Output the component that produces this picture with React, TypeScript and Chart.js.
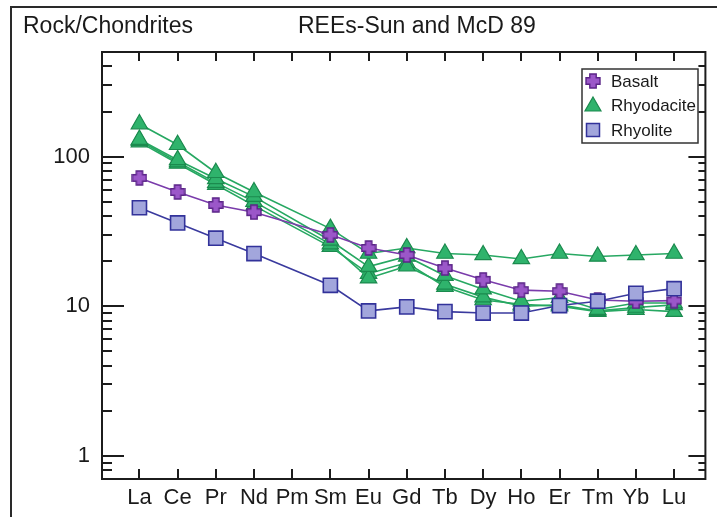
import React, { useEffect, useRef } from "react";
import { Chart, registerables } from "chart.js";
Chart.register(...registerables);

const categories = ["La", "Ce", "Pr", "Nd", "Pm", "Sm", "Eu", "Gd", "Tb", "Dy", "Ho", "Er", "Tm", "Yb", "Lu"];
const basalt = [72, 58, 47.5, 42.5, null, 30, 24.5, 22, 18, 15, 12.8, 12.6, 11, 10.8, 10.9];
const rhyolite = [45.5, 36, 28.5, 22.5, null, 13.8, 9.3, 9.9, 9.2, 9.0, 9.0, 10.1, 10.8, 12.2, 13.1];
const rhyodacite1 = [165, 120, 78, 58, null, 33, 22.5, 24.5, 22.5, 22, 20.7, 22.5, 21.5, 22, 22.5];
const rhyodacite2 = [130, 95, 71, 54, null, 27.5, 18.4, 21.5, 16, 13, 10.8, 11.4, 9.5, 10.5, 10.5];
const rhyodacite3 = [128, 92, 67, 50, null, 26, 15.4, 18.5, 14, 11.5, 10, 10.2, 9.3, 9.8, 10.2];
const rhyodacite4 = [125, 90, 65, 47, null, 25, 16.5, 19.5, 13.5, 11, 10.3, 10, 9.2, 9.5, 9.2];
const yTickValues = [0.8, 0.9, 1, 2, 3, 4, 5, 6, 7, 8, 9, 10, 20, 30, 40, 50, 60, 70, 80, 90, 100, 200, 300, 400];
const yMajorTicks = [1, 10, 100];
const titleLeft = "Rock/Chondrites";
const titleMain = "REEs-Sun and McD 89";

const FONT = '"Liberation Sans", Arial, Helvetica, sans-serif';
const PURPLE_FILL = "#9b57c9";
const PURPLE_EDGE = "#5b2588";
const PURPLE_LINE = "#7a3cab";
const BLUE_FILL = "#a2a6dc";
const BLUE_EDGE = "#32329a";
const BLUE_LINE = "#3a3a9e";
const GREEN_FILL = "#2fb36c";
const GREEN_EDGE = "#1b8a4e";
const GREEN_LINE = "#27a862";

function makeCross(size: number): HTMLCanvasElement {
  const c = document.createElement("canvas");
  c.width = size;
  c.height = size;
  const g = c.getContext("2d")!;
  const s = size;
  const a = s * 0.3;
  const b = s * 0.7;
  const m = 1;
  g.beginPath();
  g.moveTo(a, m);
  g.lineTo(b, m);
  g.lineTo(b, a);
  g.lineTo(s - m, a);
  g.lineTo(s - m, b);
  g.lineTo(b, b);
  g.lineTo(b, s - m);
  g.lineTo(a, s - m);
  g.lineTo(a, b);
  g.lineTo(m, b);
  g.lineTo(m, a);
  g.lineTo(a, a);
  g.closePath();
  g.fillStyle = PURPLE_FILL;
  g.fill();
  g.lineWidth = 1.4;
  g.strokeStyle = PURPLE_EDGE;
  g.stroke();
  return c;
}

const toPoints = (arr: (number | null)[]) => arr.map((v, i) => ({ x: i, y: v }));

export default function App() {
  const ref = useRef<HTMLCanvasElement | null>(null);
  useEffect(() => {
    document.body.style.margin = "0";
    const canvas = ref.current!;
    const cross = makeCross(16);

    const axesPlugin = {
      id: "axesPlugin",
      beforeDatasetsDraw(chart: any) {
        const { ctx, chartArea: a, scales } = chart;
        const xs = scales.x;
        const ys = scales.y;
        ctx.save();
        ctx.strokeStyle = "#1c1c1c";
        ctx.lineWidth = 2;
        const line = (x1: number, y1: number, x2: number, y2: number) => {
          ctx.beginPath();
          ctx.moveTo(x1, y1);
          ctx.lineTo(x2, y2);
          ctx.stroke();
        };
        categories.forEach((_, i) => {
          const px = Math.round(xs.getPixelForValue(i));
          line(px, a.bottom, px, a.bottom - 10);
          line(px, a.top, px, a.top + 9);
        });
        yTickValues.forEach((v) => {
          const py = Math.round(ys.getPixelForValue(v));
          const major = yMajorTicks.includes(v);
          line(a.left, py, a.left + (major ? 22 : 10), py);
          line(a.right, py, a.right - (major ? 17 : 7), py);
        });
        ctx.strokeRect(a.left, a.top, a.right - a.left, a.bottom - a.top);
        ctx.restore();
      },
      afterDraw(chart: any) {
        const { ctx } = chart;
        ctx.save();
        ctx.strokeStyle = "#2a2a2a";
        ctx.lineWidth = 2;
        ctx.strokeRect(11, 7, 800, 600);
        ctx.fillStyle = "#1a1a1a";
        ctx.font = `23px ${FONT}`;
        ctx.textBaseline = "alphabetic";
        ctx.textAlign = "left";
        ctx.fillText(titleLeft, 23, 33);
        ctx.fillText(titleMain, 298, 33);
        const lx = 582, ly = 69, lw = 116, lh = 74;
        ctx.fillStyle = "#ffffff";
        ctx.fillRect(lx, ly, lw, lh);
        ctx.strokeStyle = "#333333";
        ctx.lineWidth = 1.5;
        ctx.strokeRect(lx, ly, lw, lh);
        const rows = [81, 105, 130];
        const mx = 593;
        ctx.drawImage(cross, mx - 8, rows[0] - 8);
        ctx.beginPath();
        ctx.moveTo(mx, rows[1] - 8);
        ctx.lineTo(mx + 8, rows[1] + 6);
        ctx.lineTo(mx - 8, rows[1] + 6);
        ctx.closePath();
        ctx.fillStyle = GREEN_FILL;
        ctx.fill();
        ctx.strokeStyle = GREEN_EDGE;
        ctx.lineWidth = 1.2;
        ctx.stroke();
        ctx.fillStyle = BLUE_FILL;
        ctx.fillRect(mx - 6.5, rows[2] - 6.5, 13, 13);
        ctx.strokeStyle = BLUE_EDGE;
        ctx.lineWidth = 1.5;
        ctx.strokeRect(mx - 6.5, rows[2] - 6.5, 13, 13);
        ctx.fillStyle = "#1a1a1a";
        ctx.font = `17px ${FONT}`;
        ctx.textBaseline = "middle";
        const labels = [chart.data.datasets[0].label, chart.data.datasets[2].label, chart.data.datasets[1].label];
        labels.forEach((t: string, i: number) => ctx.fillText(t, 611, rows[i] + 1));
        ctx.restore();
      },
    };

    const greenDs = (data: (number | null)[]) => ({
      label: "Rhyodacite",
      data: toPoints(data),
      borderColor: GREEN_LINE,
      borderWidth: 1.6,
      pointStyle: "triangle",
      pointRadius: 9.5,
      pointBackgroundColor: GREEN_FILL,
      pointBorderColor: GREEN_EDGE,
      pointBorderWidth: 1.2,
      spanGaps: true,
    });

    const chart = new Chart(canvas, {
      type: "line",
      data: {
        datasets: [
          {
            label: "Basalt",
            data: toPoints(basalt),
            borderColor: PURPLE_LINE,
            borderWidth: 1.6,
            pointStyle: cross as any,
            pointRadius: 8,
            spanGaps: true,
            order: 2,
          } as any,
          {
            label: "Rhyolite",
            data: toPoints(rhyolite),
            borderColor: BLUE_LINE,
            borderWidth: 1.6,
            pointStyle: "rect",
            pointRadius: 10,
            pointBackgroundColor: BLUE_FILL,
            pointBorderColor: BLUE_EDGE,
            pointBorderWidth: 1.6,
            spanGaps: true,
            order: 1,
          },
          { ...greenDs(rhyodacite1), order: 3 },
          { ...greenDs(rhyodacite2), order: 3 },
          { ...greenDs(rhyodacite3), order: 3 },
          { ...greenDs(rhyodacite4), order: 3 },
        ],
      },
      options: {
        responsive: false,
        animation: false,
        devicePixelRatio: 1,
        layout: { padding: { left: 0, right: 7, top: 52, bottom: 0 } },
        plugins: { legend: { display: false }, tooltip: { enabled: false }, title: { display: false } },
        scales: {
          x: {
            type: "linear",
            min: -0.98,
            max: 14.82,
            grid: { display: false, drawTicks: false },
            border: { display: false },
            afterBuildTicks: (s: any) => {
              s.ticks = categories.map((_, i) => ({ value: i }));
            },
            afterFit: (s: any) => {
              s.height = 38;
            },
            ticks: {
              autoSkip: false,
              maxRotation: 0,
              padding: 6,
              color: "#1a1a1a",
              font: { family: FONT, size: 22 },
              callback: (v: any) => categories[Number(v)] ?? "",
            },
          },
          y: {
            type: "logarithmic",
            min: 0.7,
            max: 500,
            grid: { display: false, drawTicks: false },
            border: { display: false },
            afterBuildTicks: (s: any) => {
              s.ticks = yTickValues.map((v) => ({ value: v }));
            },
            afterFit: (s: any) => {
              s.width = 102;
            },
            ticks: {
              autoSkip: false,
              padding: 12,
              color: "#1a1a1a",
              font: { family: FONT, size: 22 },
              callback: (v: any) => (yMajorTicks.includes(Number(v)) ? String(v) : ""),
            },
          },
        },
      },
      plugins: [axesPlugin],
    } as any);
    return () => chart.destroy();
  }, []);

  return (
    <div style={{ width: 717, height: 517, background: "#fff" }}>
      <canvas ref={ref} width={717} height={517} style={{ display: "block" }} />
    </div>
  );
}
